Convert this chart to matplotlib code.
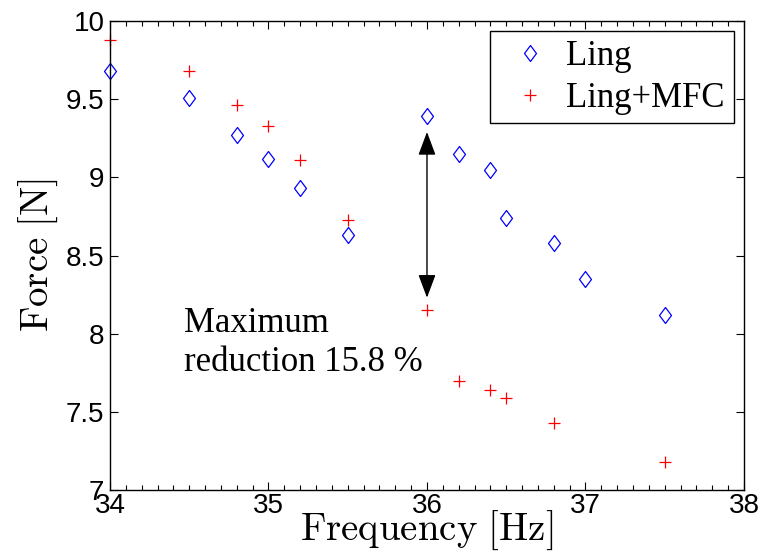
import matplotlib
matplotlib.use("Agg")
import matplotlib.pyplot as plt
from matplotlib.path import Path
from matplotlib.ticker import FuncFormatter, MultipleLocator

# Data
freq_ling = [34.0, 34.5, 34.8, 35.0, 35.2, 35.5, 36.0, 36.2, 36.4, 36.5, 36.8, 37.0, 37.5]
force_ling = [9.68, 9.51, 9.27, 9.12, 8.93, 8.63, 9.39, 9.15, 9.05, 8.74, 8.58, 8.35, 8.12]
freq_mfc = [34.0, 34.5, 34.8, 35.0, 35.2, 35.5, 36.0, 36.2, 36.4, 36.5, 36.8, 37.5]
force_mfc = [9.88, 9.68, 9.46, 9.33, 9.11, 8.73, 8.15, 7.70, 7.64, 7.59, 7.43, 7.18]
x_ticks = [34, 35, 36, 37, 38]
y_ticks = [7, 7.5, 8, 8.5, 9, 9.5, 10]
arrow_x = 36.0
arrow_top = 9.29
arrow_bottom = 8.23
note_text = "Maximum\nreduction 15.8 %"

plt.rcParams['mathtext.fontset'] = 'cm'

fig = plt.figure(figsize=(7.65, 5.53), dpi=100)
ax = fig.add_axes([0.1438, 0.1139, 0.9725 - 0.1438, 0.962 - 0.1139])

diamond = Path([(0, 1), (0.75, 0), (0, -1), (-0.75, 0), (0, 1)],
               [Path.MOVETO, Path.LINETO, Path.LINETO, Path.LINETO, Path.CLOSEPOLY])

ax.plot(freq_ling, force_ling, linestyle='none', marker=diamond, markersize=11.5,
        markerfacecolor='none', markeredgecolor='#0000ff', markeredgewidth=0.9, label='Ling',
        clip_on=False)
ax.plot(freq_mfc, force_mfc, linestyle='none', marker='+', markersize=8,
        markeredgecolor='#ff0000', markeredgewidth=0.9, label='Ling+MFC', clip_on=False)

ax.set_xlim(34, 38)
ax.set_ylim(7, 10)
ax.set_xticks(x_ticks)
ax.set_yticks(y_ticks)
ax.xaxis.set_minor_locator(MultipleLocator(0.1))
fmt = FuncFormatter(lambda v, p: '%g' % v)
ax.xaxis.set_major_formatter(fmt)
ax.yaxis.set_major_formatter(fmt)

tickfont = 'Liberation Sans'
for lab in ax.get_xticklabels() + ax.get_yticklabels():
    lab.set_fontfamily(tickfont)
    lab.set_fontsize(20)

ax.tick_params(axis='both', which='both', direction='in', top=True, right=True)
ax.tick_params(axis='both', which='major', length=6, width=0.8, pad=3)
ax.tick_params(axis='x', which='minor', length=3.5, width=0.8)
ax.tick_params(axis='x', which='major', pad=2)
ax.tick_params(axis='y', which='major', pad=4)
for s in ax.spines.values():
    s.set_linewidth(1.0)

ax.set_xlabel(r'$\mathrm{Frequency\ [Hz]}$', fontsize=28, labelpad=-7)
ax.set_ylabel(r'$\mathrm{Force\ [N]}$', fontsize=28, labelpad=4)

ax.annotate('', xy=(arrow_x, arrow_top), xytext=(arrow_x, arrow_bottom),
            arrowprops=dict(arrowstyle='<|-|>,head_length=0.72,head_width=0.27',
                            color='black', lw=1.0, shrinkA=0, shrinkB=0,
                            mutation_scale=20))

ax.text(34.47, 8.17, note_text, fontfamily='Liberation Serif', fontsize=25,
        va='top', ha='left', linespacing=1.22)

leg = ax.legend(loc='upper right', prop={'family': 'Liberation Serif', 'size': 25},
                fancybox=False, edgecolor='black', framealpha=1,
                borderaxespad=0.3, handletextpad=0.15, borderpad=0.25,
                handlelength=1.8, labelspacing=0.25)
leg.get_frame().set_linewidth(1.0)

fig.savefig('out.png', dpi=100)
